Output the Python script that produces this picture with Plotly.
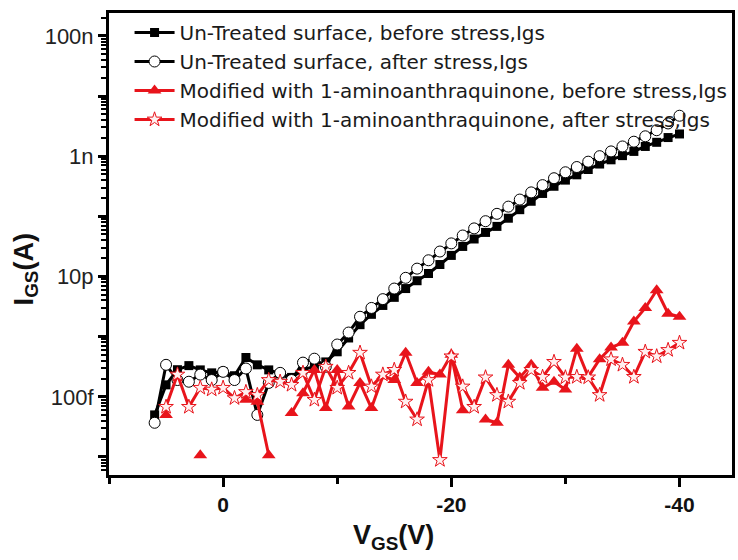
import plotly.graph_objects as go

# Gate-source voltage (V), 1 V steps
V_GS = [6, 5, 4, 3, 2, 1, 0, -1, -2, -3, -4, -5, -6, -7, -8, -9, -10, -11, -12, -13, -14,
        -15, -16, -17, -18, -19, -20, -21, -22, -23, -24, -25, -26, -27, -28, -29, -30,
        -31, -32, -33, -34, -35, -36, -37, -38, -39, -40]

# Un-Treated surface, before stress (A)
untreated_before = [5.0e-14, 1.58e-13, 2.82e-13, 3.3e-13, 2.8e-13, 2.5e-13, 2.6e-13, 2.24e-13,
                    4.5e-13, 3.4e-13, 2.8e-13, 2.4e-13, 2.1e-13, 2.8e-13, 3.2e-13, 3.8e-13,
                    5.6e-13, 9.5e-13, 1.58e-12, 2.35e-12, 3.3e-12, 4.5e-12, 6.3e-12, 8.5e-12,
                    1.12e-11, 1.58e-11, 2.24e-11, 3.16e-11, 4.2e-11, 5.4e-11, 6.8e-11, 9.3e-11,
                    1.29e-10, 1.78e-10, 2.4e-10, 3.16e-10, 4.0e-10, 4.9e-10, 6.0e-10, 7.4e-10,
                    8.7e-10, 1.02e-9, 1.2e-9, 1.45e-9, 1.7e-9, 2.04e-9, 2.34e-9]

# Un-Treated surface, after stress (A)
untreated_after = [3.7e-14, 3.4e-13, 1.9e-13, 1.78e-13, 2.34e-13, 1.9e-13, 2.6e-13, 1.9e-13,
                   2.95e-13, 5.0e-14, 1.7e-13, 2.5e-13, 1.9e-13, 3.7e-13, 4.3e-13, 3.16e-13,
                   7.4e-13, 1.17e-12, 2.14e-12, 3.0e-12, 4.2e-12, 6.3e-12, 9.5e-12, 1.35e-11,
                   1.86e-11, 2.6e-11, 3.55e-11, 4.8e-11, 6.3e-11, 8.3e-11, 1.1e-10, 1.45e-10,
                   1.9e-10, 2.5e-10, 3.3e-10, 4.3e-10, 5.4e-10, 6.6e-10, 8.1e-10, 1.0e-9,
                   1.2e-9, 1.45e-9, 1.74e-9, 2.14e-9, 2.7e-9, 3.5e-9, 4.7e-9]

# Modified with 1-aminoanthraquinone, before stress (A); None = not shown on log scale
modified_before = [None, 5.0e-14, None, None, 1.07e-14, None, None, None,
                   8.9e-14, 8.3e-14, 1.07e-14, None, 5.4e-14, 1.15e-13, 2.8e-13, 6.5e-14,
                   2.8e-13, 6.9e-14, 1.7e-13, 6.5e-14, 2.2e-13, 1.9e-13, 5.4e-13, 1.7e-13,
                   2.6e-13, 2.34e-13, 5.0e-13, 6.0e-14, None, 4.2e-14, 3.7e-14, 3.4e-13,
                   2.1e-13, 3.4e-13, 1.41e-13, 1.78e-13, 1.32e-13, 6.3e-13, 2.14e-13, 4.2e-13,
                   6.6e-13, 7.9e-13, 1.78e-12, 3.0e-12, 5.9e-12, 2.4e-12, 2.14e-12]

# Modified with 1-aminoanthraquinone, after stress (A)
modified_after = [None, 6.8e-14, 2.34e-13, 6.8e-14, 1.41e-13, 1.32e-13, 1.41e-13, 9.5e-14,
                  1.2e-13, 1.07e-13, 1.9e-13, 1.78e-13, 1.58e-13, 2.5e-13, 8.9e-14, 3.16e-13,
                  1.41e-13, 2.5e-13, 5.4e-13, 1.48e-13, 2.34e-13, 2.8e-13, 8.3e-14, 4.2e-14,
                  1.9e-13, 8.9e-15, 4.7e-13, 1.48e-13, 6.8e-14, 2.1e-13, 1.07e-13, 8.3e-14,
                  1.7e-13, 2.8e-13, 2.14e-13, 3.8e-13, 2.1e-13, 2.14e-13, 2.1e-13, 1.07e-13,
                  4.2e-13, 3.4e-13, 2.14e-13, 5.6e-13, 4.7e-13, 6.0e-13, 7.9e-13]

series_names = ["Un-Treated surface, before stress,Igs",
                "Un-Treated surface, after stress,Igs",
                "Modified with 1-aminoanthraquinone, before stress,Igs",
                "Modified with 1-aminoanthraquinone, after stress,Igs"]

y_tick_vals = [1e-14, 1e-13, 1e-12, 1e-11, 1e-10, 1e-9, 1e-8, 1e-7]
y_tick_text = [" ", "100f", " ", "10p", " ", "1n", " ", "100n"]
x_tick_vals = [0, -20, -40]
x_tick_text = ["0", "-20", "-40"]
x_minor_vals = [10, -10, -30]

RED = "#e8141b"
FONT = "Arial, Liberation Sans, sans-serif"

fig = go.Figure()
fig.add_trace(go.Scatter(x=V_GS, y=untreated_before, name=series_names[0], mode="lines+markers",
                         line=dict(color="black", width=3),
                         marker=dict(symbol="square", size=9, color="black")))
fig.add_trace(go.Scatter(x=V_GS, y=untreated_after, name=series_names[1], mode="lines+markers",
                         line=dict(color="black", width=3),
                         marker=dict(symbol="circle", size=11, color="white",
                                     line=dict(color="black", width=1))))
fig.add_trace(go.Scatter(x=V_GS, y=modified_before, name=series_names[2], mode="lines+markers",
                         line=dict(color=RED, width=3),
                         marker=dict(symbol="triangle-up", size=12, color=RED)))
fig.add_trace(go.Scatter(x=V_GS, y=modified_after, name=series_names[3], mode="lines+markers",
                         line=dict(color=RED, width=3),
                         marker=dict(symbol="star", size=11, color="#fff0f0",
                                     line=dict(color=RED, width=1))))

minor_y = []
for e in range(-15, -6):
    for m in range(2, 10):
        v = m * 10.0 ** e
        if 5e-15 <= v <= 2.4e-7:
            minor_y.append(v)

fig.update_layout(
    width=738, height=560,
    margin=dict(l=109, r=3, t=13, b=85),
    paper_bgcolor="white", plot_bgcolor="white",
    font=dict(family=FONT, color="#222"),
    showlegend=True,
    legend=dict(x=0.033, y=1.0, xanchor="left", yanchor="top",
                bgcolor="rgba(0,0,0,0)", borderwidth=0,
                font=dict(size=20, family="DejaVu Sans, sans-serif", color="#1a1a1a"),
                tracegroupgap=0, itemwidth=40),
    xaxis=dict(range=[10, -44.6], showgrid=False, zeroline=False,
               showline=True, linecolor="black", linewidth=3, mirror=True,
               tickmode="array", tickvals=x_tick_vals, ticktext=x_tick_text,
               ticks="outside", ticklen=9, tickwidth=3, tickcolor="black",
               tickfont=dict(size=21, family=FONT, color="#111", weight="bold"),
               minor=dict(tickmode="array", tickvals=x_minor_vals, ticks="outside",
                          ticklen=6, tickwidth=3, tickcolor="black", showgrid=False)),
    yaxis=dict(type="log", range=[-14.3, -6.62], showgrid=False, zeroline=False,
               showline=True, linecolor="black", linewidth=3, mirror=True,
               tickmode="array", tickvals=y_tick_vals, ticktext=y_tick_text,
               ticks="outside", ticklen=8, tickwidth=3, tickcolor="black",
               tickfont=dict(size=22, family=FONT, color="#222"),
               minor=dict(tickmode="array", tickvals=minor_y, ticks="outside",
                          ticklen=5, tickwidth=2, tickcolor="black", showgrid=False)),
)

fig.add_annotation(text="<b>V<sub>GS</sub>(V)</b>", xref="paper", yref="paper",
                   x=0.457, y=-0.134, xanchor="center", yanchor="middle", showarrow=False,
                   font=dict(size=27, family=FONT, color="#111"))
fig.add_annotation(text="<b>I<sub>GS</sub>(A)</b>", xref="paper", yref="paper",
                   x=-0.134, y=0.444, xanchor="center", yanchor="middle", showarrow=False,
                   textangle=-90, font=dict(size=27, family=FONT, color="#111"))

fig.write_html("out.html", config={"displayModeBar": False},
               post_script="document.body.style.margin='0';document.body.style.overflow='hidden';")
